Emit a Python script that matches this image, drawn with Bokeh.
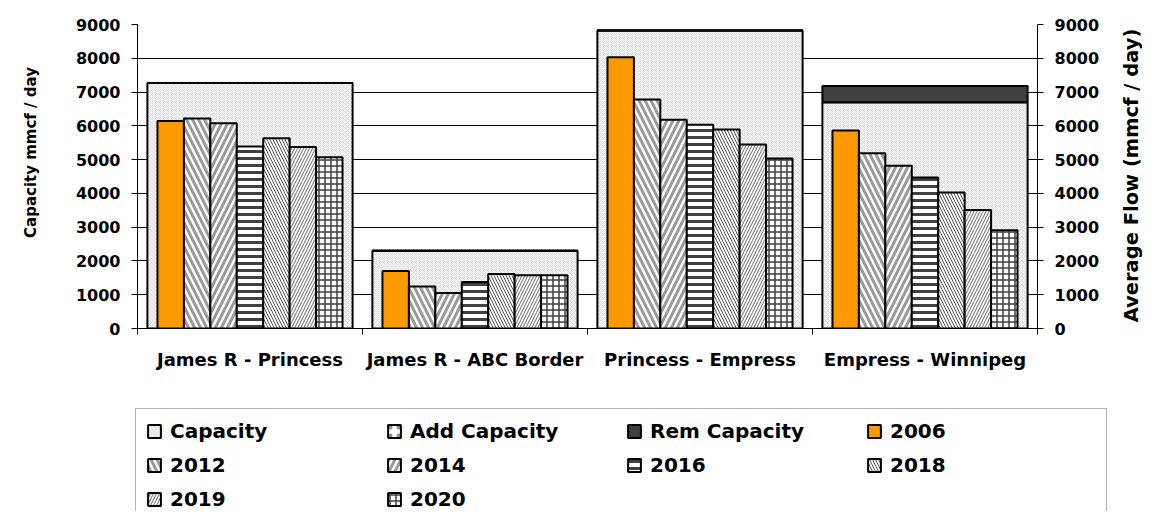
import math
from bokeh.plotting import figure
from bokeh.layouts import column, row
from bokeh.models import (Range1d, LinearAxis, FixedTicker, Legend, LegendItem,
                          ColumnDataSource, Grid, Plot, Label)
from bokeh.transform import dodge
from bokeh.embed import file_html
from bokeh.resources import INLINE

# ---------------- data ----------------
categories = ["James R - Princess", "James R - ABC Border",
              "Princess - Empress", "Empress - Winnipeg"]
capacity = [7270, 2300, 8820, 6700]
add_capacity = [0, 0, 0, 0]
rem_capacity = [0, 0, 0, 480]

years = ["2006", "2012", "2014", "2016", "2018", "2019", "2020"]
flow_2006 = [6140, 1700, 8030, 5860]
flow_2012 = [6220, 1240, 6780, 5190]
flow_2014 = [6080, 1050, 6180, 4820]
flow_2016 = [5390, 1380, 6030, 4470]
flow_2018 = [5630, 1610, 5890, 4030]
flow_2019 = [5370, 1580, 5450, 3510]
flow_2020 = [5070, 1580, 5030, 2910]
flows = [flow_2006, flow_2012, flow_2014, flow_2016, flow_2018, flow_2019, flow_2020]

y_ticks = [0, 1000, 2000, 3000, 4000, 5000, 6000, 7000, 8000, 9000]
left_title = "Capacity mmcf / day"
right_title = "Average Flow (mmcf / day)"
legend_labels = ["Capacity", "Add Capacity", "Rem Capacity"] + years

# ---------------- source ----------------
data = {"x": [i + 0.5 for i in range(len(categories))],
        "capacity": capacity, "add_capacity": add_capacity, "rem_capacity": rem_capacity}
for yr, vals in zip(years, flows):
    data["y" + yr] = vals
src = ColumnDataSource(data)

FONT = "DejaVu Sans"
W = 1144
H_MAIN = 395
H_LEG = 116
W_LT = 45      # left title strip
W_RT = 42      # right title strip
W_MAIN = W - W_LT - W_RT
has_frame_align = "frame_align" in Plot.properties()

cap_style = dict(fill_color=["#f5f5f5", "#ffffff", "#404040"],
                 hatch_pattern=["x", ".", " "],
                 hatch_color=["#cfcfcf", "#909090", "#404040"],
                 hatch_scale=[4, 8, 4], hatch_weight=[0.6, 1.0, 0.5],
                 line_color="black", line_width=2)
bw = 0.1175
styles = [
    dict(fill_color="#FF9900", hatch_pattern=" ", hatch_color="#FF9900", hatch_scale=6, hatch_weight=1),
    dict(fill_color="#ffffff", hatch_pattern="\\", hatch_color="#9a9a9a", hatch_scale=12, hatch_weight=3),
    dict(fill_color="#ffffff", hatch_pattern="/", hatch_color="#9a9a9a", hatch_scale=12, hatch_weight=3),
    dict(fill_color="#ffffff", hatch_pattern="-", hatch_color="#404040", hatch_scale=7, hatch_weight=3),
    dict(fill_color="#ffffff", hatch_pattern="\\", hatch_color="#555555", hatch_scale=6, hatch_weight=1),
    dict(fill_color="#ffffff", hatch_pattern="/", hatch_color="#888888", hatch_scale=6, hatch_weight=1.2),
    dict(fill_color="#ffffff", hatch_pattern="+", hatch_color="#404040", hatch_scale=6, hatch_weight=1.5),
]


def draw_bars(fig):
    caps = fig.vbar_stack(["capacity", "add_capacity", "rem_capacity"], x="x", width=0.912,
                          source=src, **cap_style)
    yrs = []
    n = len(years)
    for k, yr in enumerate(years):
        r = fig.vbar(x=dodge("x", (k - (n - 1) / 2) * bw), top="y" + yr, width=bw, source=src,
                     line_color="black", line_width=2, **styles[k])
        yrs.append(r)
    return list(caps) + yrs


def blank_fig(w, h):
    f = figure(width=w, height=h, x_range=Range1d(0, 1), y_range=Range1d(0, 1),
               output_backend="svg", toolbar_location=None, x_axis_type=None,
               y_axis_type=None, min_border=0, min_border_left=0, min_border_right=0,
               min_border_top=0, min_border_bottom=0, outline_line_color=None,
               background_fill_color="white", border_fill_color="white")
    f.xgrid.visible = False
    f.ygrid.visible = False
    if has_frame_align:
        f.frame_align = False
    return f


# ---------------- main chart ----------------
p = figure(width=W_MAIN, height=H_MAIN, x_range=Range1d(0, len(categories)),
           y_range=Range1d(0, 9000), output_backend="svg", toolbar_location=None,
           x_axis_type=None, y_axis_type=None,
           min_border_left=137 - W_LT, min_border_right=W - W_RT - 1037, min_border_top=24,
           min_border_bottom=H_MAIN - 328, outline_line_color=None,
           background_fill_color="white", border_fill_color="white")
p.xgrid.visible = False
p.ygrid.visible = False
if has_frame_align:
    p.frame_align = False
p.add_layout(Grid(dimension=1, ticker=FixedTicker(ticks=y_ticks),
                  grid_line_color="black", grid_line_width=1))
draw_bars(p)


def yaxis():
    return LinearAxis(ticker=FixedTicker(ticks=y_ticks, minor_ticks=[]),
                      major_tick_out=6, major_tick_in=0, minor_tick_out=0, minor_tick_in=0,
                      major_label_standoff=11, axis_line_color="black", axis_line_width=1,
                      major_tick_line_color="black",
                      major_label_text_font=FONT, major_label_text_font_style="bold",
                      major_label_text_font_size="16px", major_label_text_color="black")


p.add_layout(yaxis(), "left")
p.add_layout(yaxis(), "right")

centers = [i + 0.5 for i in range(len(categories))]
bounds = [float(i) for i in range(len(categories) + 1)]
xaxis = LinearAxis(ticker=FixedTicker(ticks=centers, minor_ticks=bounds),
                   major_label_overrides={c: lab for c, lab in zip(centers, categories)},
                   major_tick_line_color=None, major_tick_out=0, major_tick_in=0,
                   minor_tick_out=6, minor_tick_in=0, minor_tick_line_color="black",
                   axis_line_color="black", major_label_standoff=14,
                   major_label_text_font=FONT, major_label_text_font_style="bold",
                   major_label_text_font_size="18px", major_label_text_color="black")
p.add_layout(xaxis, "below")

# ---------------- axis titles (side strips) ----------------
lt = blank_fig(W_LT, H_MAIN)
lt.add_layout(Label(x=30, y=H_MAIN - 152, x_units="screen", y_units="screen",
                    text=left_title, angle=math.pi / 2, text_align="center",
                    text_baseline="middle", text_font=FONT, text_font_style="bold",
                    text_font_size="15px", text_color="black"))
rt = blank_fig(W_RT, H_MAIN)
rt.add_layout(Label(x=1131 - (W - W_RT), y=H_MAIN - 175, x_units="screen", y_units="screen",
                    text=right_title, angle=math.pi / 2, text_align="center",
                    text_baseline="middle", text_font=FONT, text_font_style="bold",
                    text_font_size="19.5px", text_color="black"))

# ---------------- legend panel ----------------
lf = figure(width=W, height=H_LEG, x_range=Range1d(0, len(categories)), y_range=Range1d(0, 9000),
            output_backend="svg", toolbar_location=None, x_axis_type=None, y_axis_type=None,
            min_border=0, min_border_left=0, min_border_right=0, min_border_top=0,
            min_border_bottom=0, outline_line_color=None,
            background_fill_color="white", border_fill_color="white")
lf.xgrid.visible = False
lf.ygrid.visible = False
if has_frame_align:
    lf.frame_align = False
proxy = draw_bars(lf)  # hidden copies, used only for the legend glyphs
for r in proxy:
    r.visible = False
items = [LegendItem(label=l, renderers=[r]) for l, r in zip(legend_labels, proxy)]
legend = Legend(items=items, orientation="horizontal", ncols=4, location=(135, -11),
                glyph_width=16, glyph_height=16, label_standoff=8, label_width=206,
                label_height=23, spacing=10, padding=10, margin=0,
                border_line_color="#666666", border_line_width=1.5,
                background_fill_color="white", background_fill_alpha=1,
                inactive_fill_alpha=0,
                label_text_font=FONT, label_text_font_style="bold",
                label_text_font_size="20px", label_text_color="black")
lf.add_layout(legend)

layout = column(row(lt, p, rt, spacing=0), lf, spacing=0)
open("out.html", "w").write(file_html(layout, INLINE))
